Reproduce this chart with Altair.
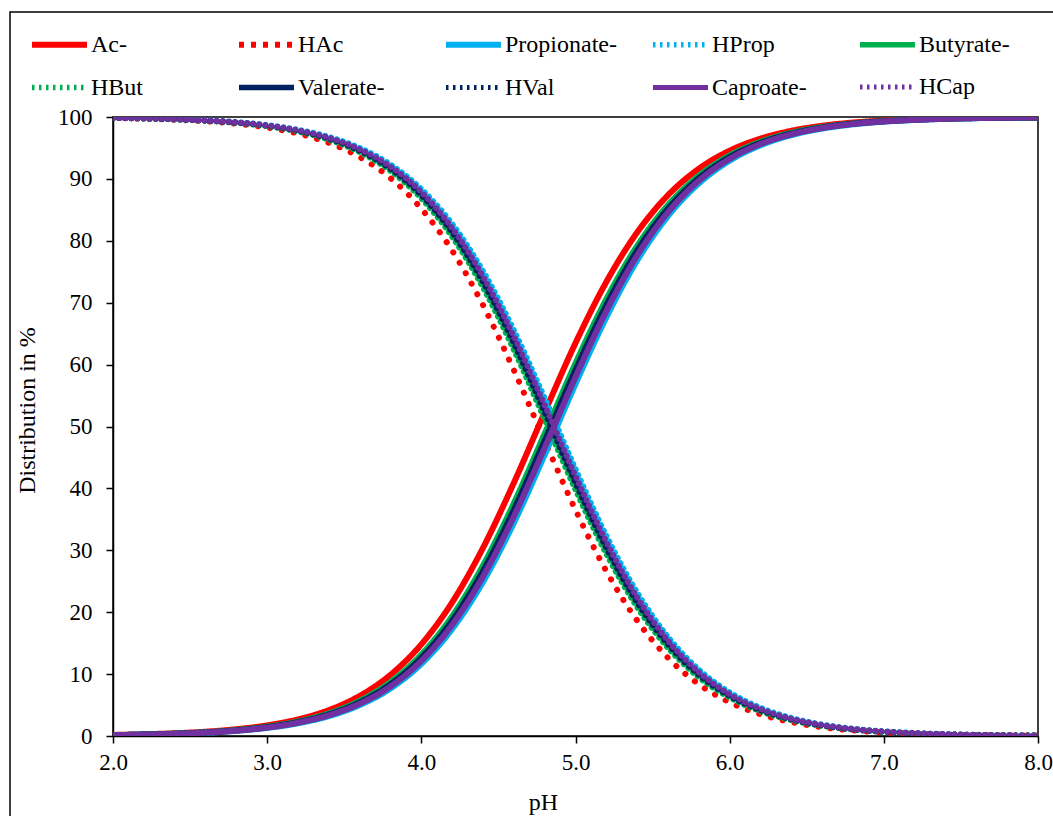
import altair as alt
import pandas as pd

ph = [2.0, 2.2, 2.4, 2.6, 2.8, 3.0, 3.2, 3.4, 3.6, 3.8, 4.0, 4.2, 4.4, 4.6, 4.8,
      5.0, 5.2, 5.4, 5.6, 5.8, 6.0, 6.2, 6.4, 6.6, 6.8, 7.0, 7.2, 7.4, 7.6, 7.8, 8.0]

ac = [0.17, 0.28, 0.44, 0.69, 1.09, 1.71, 2.68, 4.18, 6.47, 9.88, 14.81, 21.59, 30.39, 40.89, 52.30,
      63.48, 73.36, 81.36, 87.37, 91.64, 94.56, 96.50, 97.76, 98.58, 99.10, 99.43, 99.64, 99.77, 99.86, 99.91, 99.94]
hac = [99.83, 99.72, 99.56, 99.31, 98.92, 98.29, 97.32, 95.82, 93.53, 90.12, 85.19, 78.41, 69.61, 59.11, 47.70,
       36.52, 26.64, 18.64, 12.63, 8.36, 5.44, 3.50, 2.24, 1.42, 0.90, 0.57, 0.36, 0.23, 0.14, 0.09, 0.06]
prop = [0.13, 0.21, 0.33, 0.52, 0.83, 1.30, 2.05, 3.21, 4.99, 7.68, 11.65, 17.28, 24.88, 34.42, 45.41,
        56.86, 67.63, 76.81, 84.00, 89.27, 92.95, 95.43, 97.07, 98.13, 98.81, 99.25, 99.52, 99.70, 99.81, 99.88, 99.92]
hprop = [99.87, 99.79, 99.67, 99.48, 99.18, 98.70, 97.95, 96.80, 95.01, 92.32, 88.35, 82.72, 75.12, 65.58, 54.59,
         43.14, 32.37, 23.19, 16.00, 10.73, 7.05, 4.57, 2.93, 1.87, 1.19, 0.75, 0.48, 0.30, 0.19, 0.12, 0.08]
but = [0.15, 0.24, 0.38, 0.60, 0.95, 1.49, 2.34, 3.66, 5.68, 8.72, 13.15, 19.35, 27.55, 37.60, 48.85,
       60.22, 70.58, 79.18, 85.77, 90.52, 93.80, 96.00, 97.44, 98.37, 98.96, 99.34, 99.58, 99.74, 99.83, 99.90, 99.93]
hbut = [99.85, 99.76, 99.62, 99.40, 99.05, 98.51, 97.66, 96.34, 94.32, 91.28, 86.85, 80.65, 72.45, 62.40, 51.15,
        39.78, 29.42, 20.82, 14.23, 9.48, 6.20, 4.00, 2.56, 1.63, 1.04, 0.66, 0.42, 0.26, 0.17, 0.10, 0.07]
val = [0.14, 0.23, 0.36, 0.57, 0.90, 1.43, 2.24, 3.50, 5.44, 8.36, 12.63, 18.64, 26.64, 36.52, 47.70,
       59.11, 69.61, 78.41, 85.19, 90.12, 93.53, 95.82, 97.32, 98.29, 98.92, 99.31, 99.57, 99.73, 99.83, 99.89, 99.93]
hval = [99.86, 99.77, 99.64, 99.43, 99.10, 98.58, 97.76, 96.50, 94.56, 91.64, 87.37, 81.36, 73.36, 63.48, 52.30,
        40.89, 30.39, 21.59, 14.81, 9.88, 6.47, 4.18, 2.68, 1.71, 1.08, 0.69, 0.43, 0.27, 0.17, 0.11, 0.07]
cap = [0.14, 0.22, 0.35, 0.55, 0.86, 1.36, 2.14, 3.35, 5.21, 8.01, 12.13, 17.95, 25.75, 35.46, 46.55,
       57.99, 68.63, 77.62, 84.60, 89.70, 93.25, 95.63, 97.20, 98.21, 98.87, 99.28, 99.54, 99.71, 99.82, 99.89, 99.93]
hcap = [99.86, 99.78, 99.65, 99.45, 99.14, 98.64, 97.86, 96.65, 94.79, 91.99, 87.87, 82.05, 74.25, 64.54, 53.45,
        42.01, 31.37, 22.38, 15.40, 10.30, 6.75, 4.37, 2.80, 1.79, 1.13, 0.72, 0.46, 0.29, 0.18, 0.11, 0.07]

series_names = ["Ac-", "HAc", "Propionate-", "HProp", "Butyrate-", "HBut",
                "Valerate-", "HVal", "Caproate-", "HCap"]
series_values = [ac, hac, prop, hprop, but, hbut, val, hval, cap, hcap]
series_colors = ["#FF0000", "#FF0000", "#00B0F0", "#00B0F0", "#00B050", "#00B050",
                 "#002060", "#002060", "#7030A0", "#7030A0"]
# dash patterns for the plotted lines (round caps turn the tiny dashes into dots)
line_dash = [[1, 0], [0.1, 12], [1, 0], [0.1, 6], [1, 0], [0.1, 6],
             [1, 0], [0.1, 6], [1, 0], [0.1, 6]]
# dash patterns for the legend swatches (butt caps)
legend_dash = [[1, 0], [5, 7], [1, 0], [2.5, 4.5], [1, 0], [2.5, 4.5],
               [1, 0], [2.5, 4.5], [1, 0], [2.5, 4.5]]
line_width = [6, 6, 3, 3, 3, 3, 3, 3, 3, 3]
legend_width = [6, 5, 3, 2.5, 3, 2.5, 3, 2.5, 3, 2.5]

rows = []
for i, (name, vals) in enumerate(zip(series_names, series_values)):
    for p, v in zip(ph, vals):
        rows.append({"pH": p, "value": v, "series": name, "order": i})
df = pd.DataFrame(rows)

FONT = "Liberation Serif"
W, H = 925, 619

x_enc = alt.X("pH:Q", scale=alt.Scale(domain=[2, 8], nice=False),
              axis=alt.Axis(title="pH", values=[2, 3, 4, 5, 6, 7, 8], format=".1f",
                            titleX=430, titleY=66, titleBaseline="middle", labelFlush=False,
                            labelFont=FONT, titleFont=FONT, labelFontSize=23, titleFontSize=24,
                            labelColor="black", titleColor="black", titleFontWeight="normal",
                            labelPadding=8))
y_enc = alt.Y("value:Q", scale=alt.Scale(domain=[0, 100], nice=False),
              axis=alt.Axis(title="Distribution in %", values=list(range(0, 101, 10)),
                            titleX=-86, titleY=293, titleAngle=-90, titleBaseline="middle",
                            titleAlign="center",
                            labelFont=FONT, titleFont=FONT, labelFontSize=23, titleFontSize=24,
                            labelColor="black", titleColor="black", titleFontWeight="normal",
                            labelPadding=14))

lines = alt.Chart(df).mark_line(interpolate="monotone", strokeCap="round", clip=True).encode(
    x=x_enc,
    y=y_enc,
    color=alt.Color("series:N", sort=series_names,
                    scale=alt.Scale(domain=series_names, range=series_colors), legend=None),
    strokeDash=alt.StrokeDash("series:N", sort=series_names,
                              scale=alt.Scale(domain=series_names, range=line_dash), legend=None),
    strokeWidth=alt.StrokeWidth("series:N", sort=series_names,
                                scale=alt.Scale(domain=series_names, range=line_width), legend=None),
    order=alt.Order("order:Q"),
    detail="series:N",
)

legend_layer = alt.Chart(df).transform_filter("datum.value < -1000").mark_line(strokeCap="butt").encode(
    x=x_enc,
    y=y_enc,
    color=alt.Color("series:N", sort=series_names,
                    scale=alt.Scale(domain=series_names, range=series_colors),
                    legend=alt.Legend(title=None, orient="none", legendX=-84, legendY=-103,
                                      direction="horizontal", columns=5, symbolType="stroke",
                                      symbolSize=3025, gridAlign="all", columnPadding=24,
                                      rowPadding=-13, labelFont=FONT, labelFontSize=24,
                                      labelColor="black", labelOffset=1, labelLimit=250)),
    strokeDash=alt.StrokeDash("series:N", sort=series_names,
                              scale=alt.Scale(domain=series_names, range=legend_dash)),
    strokeWidth=alt.StrokeWidth("series:N", sort=series_names,
                                scale=alt.Scale(domain=series_names, range=legend_width)),
)

frame = alt.Chart(pd.DataFrame({"a": [0]})).mark_rect(
    fill=None, stroke="black", strokeWidth=1.5, clip=False
).encode(x=alt.value(-103), x2=alt.value(W + 40), y=alt.value(-105), y2=alt.value(H + 120))

chart = alt.layer(lines, legend_layer, frame).resolve_scale(
    color="independent", strokeDash="independent", strokeWidth="independent"
).properties(
    width=W, height=H,
    autosize=alt.AutoSizeParams(type="none"),
    padding={"left": 113, "top": 117, "right": 15, "bottom": 80},
).configure_view(stroke="black", strokeWidth=1.5).configure_axis(
    labelFont=FONT, labelFontSize=23, labelColor="black",
    titleFont=FONT, titleFontSize=24, titleColor="black", titleFontWeight="normal",
    domainColor="black", domainWidth=1.5, tickColor="black", tickWidth=1.5, tickSize=7,
    grid=False,
).configure_text(font=FONT)

chart.save("out.html", embed_options={"renderer": "svg", "actions": False})
